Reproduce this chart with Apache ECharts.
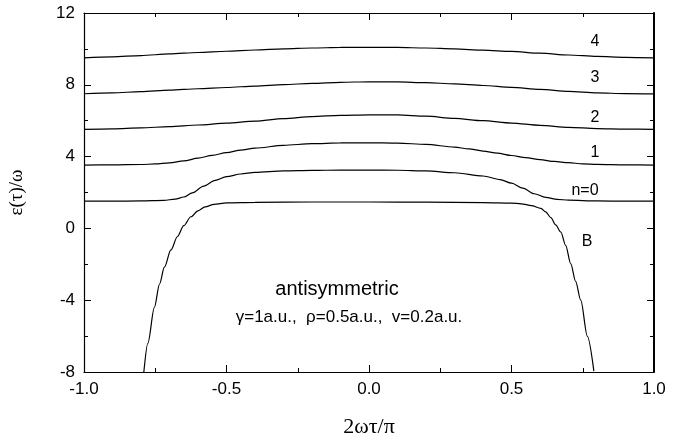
<!DOCTYPE html>
<html>
<head>
<meta charset="utf-8">
<script src="https://cdn.jsdelivr.net/npm/echarts@6/dist/echarts.min.js"></script>
<style>
html,body{margin:0;padding:0;background:#fff;}
#c{width:689px;height:443px;}
</style>
</head>
<body>
<div id="c"></div>
<script>
// Level curves: [2ωτ/π, ε(τ)/ω]
const curveN4 = [[-1.0,9.50],[-0.9,9.56],[-0.8,9.63],[-0.7,9.72],[-0.6,9.80],[-0.5,9.87],[-0.4,9.94],[-0.3,10.0],[-0.2,10.05],[-0.1,10.08],[0.0,10.09],[0.1,10.08],[0.2,10.05],[0.3,10.0],[0.4,9.93],[0.5,9.86],[0.6,9.76],[0.7,9.66],[0.8,9.58],[0.9,9.53],[1.0,9.50]];
const curveN3 = [[-1.0,7.50],[-0.9,7.55],[-0.8,7.62],[-0.7,7.70],[-0.6,7.78],[-0.5,7.85],[-0.4,7.93],[-0.3,8.01],[-0.2,8.08],[-0.1,8.14],[0.0,8.17],[0.1,8.16],[0.2,8.12],[0.3,8.05],[0.4,7.96],[0.5,7.86],[0.6,7.74],[0.7,7.63],[0.8,7.55],[0.9,7.51],[1.0,7.49]];
const curveN2 = [[-1.0,5.52],[-0.9,5.55],[-0.8,5.60],[-0.7,5.67],[-0.6,5.76],[-0.5,5.86],[-0.4,5.98],[-0.3,6.12],[-0.2,6.23],[-0.1,6.30],[0.0,6.33],[0.1,6.32],[0.2,6.25],[0.3,6.13],[0.4,6.0],[0.5,5.87],[0.6,5.74],[0.7,5.63],[0.8,5.56],[0.9,5.53],[1.0,5.52]];
const curveN1 = [[-1.0,3.53],[-0.9,3.54],[-0.8,3.56],[-0.75,3.59],[-0.7,3.65],[-0.65,3.76],[-0.6,3.91],[-0.55,4.07],[-0.5,4.22],[-0.45,4.36],[-0.4,4.47],[-0.3,4.63],[-0.2,4.72],[-0.1,4.76],[0.0,4.77],[0.1,4.75],[0.2,4.68],[0.3,4.53],[0.35,4.43],[0.4,4.31],[0.45,4.19],[0.5,4.06],[0.55,3.94],[0.6,3.83],[0.65,3.73],[0.7,3.66],[0.75,3.60],[0.8,3.57],[0.9,3.54],[1.0,3.53]];
const curveN0 = [[-1.0,1.52],[-0.9,1.52],[-0.8,1.53],[-0.72,1.56],[-0.68,1.63],[-0.65,1.75],[-0.62,1.98],[-0.58,2.36],[-0.54,2.68],[-0.5,2.88],[-0.45,3.03],[-0.4,3.12],[-0.3,3.20],[-0.2,3.23],[-0.1,3.25],[0.0,3.25],[0.1,3.24],[0.2,3.20],[0.3,3.10],[0.4,2.92],[0.46,2.72],[0.5,2.52],[0.54,2.24],[0.58,1.93],[0.62,1.73],[0.66,1.62],[0.7,1.57],[0.8,1.53],[0.9,1.52],[1.0,1.52]];
const curveB = [[-0.79,-8],[-0.776,-6.4],[-0.753,-4.4],[-0.735,-3.1],[-0.718,-2.16],[-0.695,-1.2],[-0.672,-0.45],[-0.65,0.15],[-0.625,0.65],[-0.6,0.98],[-0.575,1.2],[-0.544,1.34],[-0.5,1.42],[-0.4,1.45],[-0.2,1.47],[0.0,1.47],[0.2,1.46],[0.4,1.44],[0.5,1.41],[0.534,1.37],[0.57,1.27],[0.603,1.12],[0.62,0.92],[0.638,0.6],[0.655,0.2],[0.673,-0.2],[0.69,-0.95],[0.708,-1.98],[0.725,-2.95],[0.743,-4.0],[0.766,-6.0],[0.789,-7.95]];
const curveLabels = ['4','3','2','1','n=0','B'];
const xTicks = [-1.0,-0.5,0.0,0.5,1.0];
const yTicks = [-8,-4,0,4,8,12];

const chart = echarts.init(document.getElementById('c'), null, {renderer:'canvas'});
const sans = 'Liberation Sans, Arial, sans-serif';
const serif = 'Liberation Serif, Times New Roman, serif';
function mkSeries(name, data){
  return {name:name, type:'line', data:data, showSymbol:false, smooth:0.3, smoothMonotone:'x',
    lineStyle:{color:'#000', width:1.2}, clip:true, silent:true, animation:false};
}
chart.setOption({
  animation:false,
  backgroundColor:'#fff',
  grid:{left:79, right:35, top:13, bottom:67, containLabel:false},
  xAxis:[{
    type:'value', min:xTicks[0], max:xTicks[xTicks.length-1], interval:0.5, position:'bottom',
    axisLine:{show:true, onZero:false, lineStyle:{color:'#000', width:1.2}},
    axisTick:{show:true, inside:true, length:7, lineStyle:{color:'#000'}},
    minorTick:{show:true, splitNumber:2, length:4, lineStyle:{color:'#000'}},
    splitLine:{show:false},
    axisLabel:{color:'#000', fontSize:17, fontFamily:sans, margin:9, formatter:v=>v.toFixed(1)},
    name:'2ωτ/π', nameLocation:'middle', nameGap:44,
    nameTextStyle:{color:'#000', fontSize:22, fontFamily:serif}
  },{
    type:'value', min:-1, max:1, interval:0.5, position:'top',
    axisLine:{show:true, onZero:false, lineStyle:{color:'#000', width:1.2}},
    axisTick:{show:true, inside:true, length:7, lineStyle:{color:'#000'}},
    minorTick:{show:true, splitNumber:2, length:4, lineStyle:{color:'#000'}},
    splitLine:{show:false}, axisLabel:{show:false}
  }],
  yAxis:[{
    type:'value', min:yTicks[0], max:yTicks[yTicks.length-1], interval:4, position:'left',
    axisLine:{show:true, onZero:false, lineStyle:{color:'#000', width:1.2}},
    axisTick:{show:true, inside:true, length:7, lineStyle:{color:'#000'}},
    minorTick:{show:true, splitNumber:2, length:4, lineStyle:{color:'#000'}},
    splitLine:{show:false},
    axisLabel:{color:'#000', fontSize:17, fontFamily:sans, margin:9},
    name:'ε(τ)/ω', nameLocation:'middle', nameGap:57, nameRotate:90,
    nameTextStyle:{color:'#000', fontSize:19, fontFamily:serif}
  },{
    type:'value', min:-8, max:12, interval:4, position:'right',
    axisLine:{show:true, onZero:false, lineStyle:{color:'#000', width:2}},
    axisTick:{show:true, inside:true, length:7, lineStyle:{color:'#000'}},
    minorTick:{show:true, splitNumber:2, length:4, lineStyle:{color:'#000'}},
    splitLine:{show:false}, axisLabel:{show:false}
  }],
  series:[
    mkSeries('4', curveN4), mkSeries('3', curveN3), mkSeries('2', curveN2),
    mkSeries('1', curveN1), mkSeries('n=0', curveN0), mkSeries('B', curveB)
  ],
  graphic:[
    {type:'text', x:595, y:42, style:{text:curveLabels[0], font:'16px '+sans, fill:'#000', textAlign:'center', textVerticalAlign:'middle'}},
    {type:'text', x:595, y:78, style:{text:curveLabels[1], font:'16px '+sans, fill:'#000', textAlign:'center', textVerticalAlign:'middle'}},
    {type:'text', x:595, y:118, style:{text:curveLabels[2], font:'16px '+sans, fill:'#000', textAlign:'center', textVerticalAlign:'middle'}},
    {type:'text', x:595, y:153, style:{text:curveLabels[3], font:'16px '+sans, fill:'#000', textAlign:'center', textVerticalAlign:'middle'}},
    {type:'text', x:585, y:191, style:{text:curveLabels[4], font:'16px '+sans, fill:'#000', textAlign:'center', textVerticalAlign:'middle'}},
    {type:'text', x:587, y:242, style:{text:curveLabels[5], font:'16px '+sans, fill:'#000', textAlign:'center', textVerticalAlign:'middle'}},
    {type:'text', x:337, y:289, style:{text:'antisymmetric', font:'20px '+sans, fill:'#000', textAlign:'center', textVerticalAlign:'middle'}},
    {type:'text', x:349, y:317, style:{text:'γ=1a.u.,  ρ=0.5a.u.,  v=0.2a.u.', font:'17px '+sans, fill:'#000', textAlign:'center', textVerticalAlign:'middle'}}
  ]
});
</script>
</body>
</html>
